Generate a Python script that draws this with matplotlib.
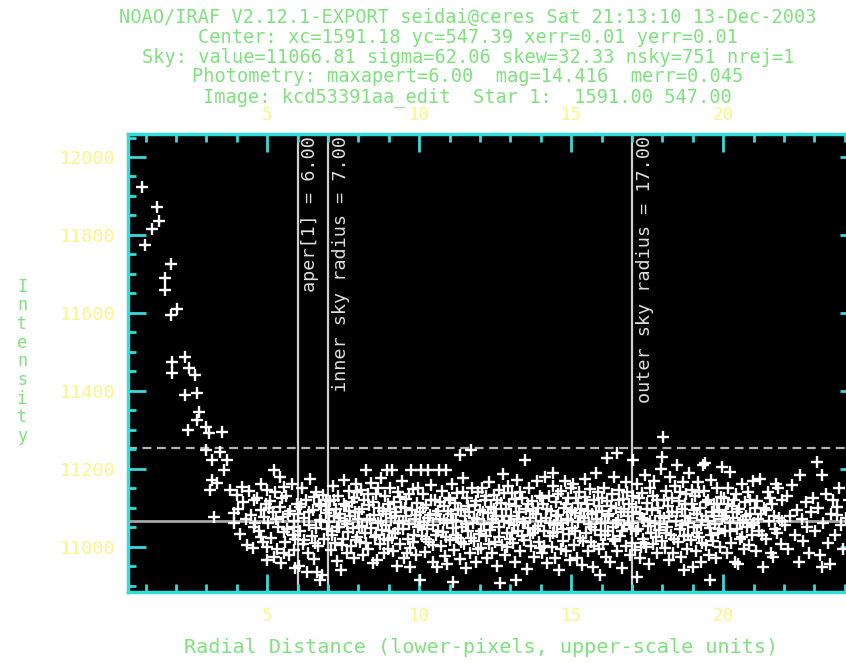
import matplotlib
matplotlib.use('Agg')
import matplotlib.pyplot as plt
from matplotlib.ticker import MultipleLocator

# header lines written by IRAF above the plot
header = [
    'NOAO/IRAF V2.12.1-EXPORT seidai@ceres Sat 21:13:10 13-Dec-2003',
    'Center: xc=1591.18 yc=547.39 xerr=0.01 yerr=0.01',
    'Sky: value=11066.81 sigma=62.06 skew=32.33 nsky=751 nrej=1',
    'Photometry: maxapert=6.00  mag=14.416  merr=0.045',
    'Image: kcd53391aa_edit  Star 1:  1591.00 547.00',
]

sky_value = 11066.81
sky_sigma = 62.06
aper = 6.00
r_inner = 7.00
r_outer = 17.00
upper_ticks = [5, 10, 15, 20]

# pixel (radius, intensity) pairs
star = [(0.88, 11923), (1.36, 11871), (1.43, 11837), (1.21, 11816), (0.99, 11774),
        (1.84, 11725), (1.65, 11689), (1.65, 11659), (2.04, 11610), (1.82, 11595),
        (2.31, 11488), (1.87, 11475), (2.42, 11458), (1.87, 11445), (2.64, 11441),
        (2.30, 11389), (2.68, 11395), (2.74, 11347), (2.68, 11325), (2.41, 11300),
        (2.97, 11308), (3.08, 11291), (3.52, 11295), (2.97, 11248), (3.19, 11222),
        (3.46, 11244), (3.57, 11197), (3.68, 11222), (3.19, 11171), (3.13, 11146),
        (3.35, 11163), (3.79, 11146), (3.24, 11077), (3.90, 11086), (3.90, 11060)]

band_04 = [(4.01, 11133), (4.17, 11154), (4.56, 11120), (4.78, 11094), (4.56, 11051),
           (4.78, 11026), (4.05, 11098), (4.12, 11032), (4.21, 11115), (4.30, 11071),
           (4.33, 11005), (4.41, 11143), (4.48, 11082), (4.52, 10998), (4.61, 11060),
           (4.66, 11125), (4.73, 11041), (4.80, 11160), (4.85, 11012), (4.90, 11077),
           (4.96, 11109)]

band_05 = [(5.22, 11197), (5.43, 11180), (5.55, 11154), (5.00, 11146), (5.00, 11000),
           (5.22, 10974), (5.55, 10983), (5.00, 10966), (5.55, 11038), (5.87, 11051),
           (5.87, 10992), (5.04, 11062), (5.09, 11118), (5.13, 11023), (5.18, 11088),
           (5.26, 11140), (5.31, 10995), (5.35, 11052), (5.42, 11103), (5.47, 10958),
           (5.52, 11076), (5.58, 11012), (5.63, 11131), (5.66, 11045), (5.71, 10978),
           (5.75, 11092), (5.80, 11160), (5.84, 11030), (5.89, 11067), (5.93, 10945),
           (5.97, 11110), (5.06, 11100), (5.28, 11070), (5.49, 11125), (5.68, 11085),
           (5.91, 11020)]

band_06 = [(6.20, 11017), (6.31, 10936), (6.64, 10936), (6.75, 10915), (6.09, 11103),
           (6.53, 11128), (6.75, 11069), (6.02, 11085), (6.05, 10950), (6.08, 11040),
           (6.14, 11152), (6.17, 11008), (6.22, 11073), (6.27, 11121), (6.33, 10985),
           (6.38, 11056), (6.41, 11175), (6.46, 11027), (6.50, 11094), (6.55, 10968),
           (6.59, 11140), (6.62, 11048), (6.68, 11002), (6.71, 11110), (6.76, 11066),
           (6.80, 10928), (6.84, 11133), (6.88, 11019), (6.93, 11087), (6.97, 11045),
           (6.12, 11110), (6.36, 11090), (6.57, 11010), (6.78, 11105), (6.95, 11120)]

band_07 = [(7.02, 11063), (7.05, 11118), (7.09, 10992), (7.12, 11041), (7.16, 11156),
           (7.19, 11078), (7.23, 11010), (7.27, 11097), (7.30, 10963), (7.33, 11129),
           (7.37, 11052), (7.41, 11085), (7.44, 10940), (7.48, 11020), (7.51, 11172),
           (7.55, 11066), (7.58, 11104), (7.61, 10985), (7.65, 11037), (7.68, 11143),
           (7.72, 11079), (7.75, 11003), (7.79, 11115), (7.82, 11048), (7.86, 10972),
           (7.89, 11090), (7.93, 11160), (7.96, 11026), (7.99, 11071), (7.04, 11095),
           (7.14, 11030), (7.21, 11120), (7.35, 11075), (7.46, 11005), (7.53, 11110),
           (7.63, 11058), (7.70, 11092), (7.84, 11125), (7.91, 11018), (7.97, 11140),
           (7.28, 11050)]

band_08 = [(8.02, 11088), (8.05, 11013), (8.08, 11145), (8.12, 11054), (8.15, 10978),
           (8.19, 11120), (8.22, 11036), (8.26, 11196), (8.29, 11069), (8.33, 10995),
           (8.36, 11108), (8.40, 11047), (8.43, 11163), (8.47, 10958), (8.50, 11082),
           (8.54, 11025), (8.57, 11135), (8.61, 10966), (8.64, 11061), (8.68, 11100),
           (8.71, 11008), (8.75, 11176), (8.78, 11043), (8.82, 11091), (8.85, 10985),
           (8.89, 11130), (8.92, 11057), (8.96, 11018), (8.99, 11110), (8.95, 11197),
           (8.03, 11050), (8.11, 11098), (8.24, 11010), (8.31, 11135), (8.38, 11072),
           (8.49, 11115), (8.58, 11030), (8.66, 11150), (8.73, 11065), (8.83, 11020),
           (8.90, 11085), (8.97, 10995)]

band_09 = [(9.01, 11040), (9.04, 11152), (9.07, 11073), (9.10, 11197), (9.13, 10990),
           (9.17, 11115), (9.20, 11035), (9.24, 11088), (9.27, 10950), (9.31, 11140),
           (9.34, 11061), (9.37, 11006), (9.41, 11101), (9.44, 11168), (9.48, 11045),
           (9.51, 10972), (9.55, 11079), (9.58, 11123), (9.62, 11020), (9.65, 11058),
           (9.69, 10998), (9.70, 10949), (9.72, 11197), (9.76, 11095), (9.79, 11148),
           (9.83, 11031), (9.86, 11070), (9.90, 10980), (9.93, 11112), (9.97, 11050),
           (9.03, 11098), (9.11, 11022), (9.19, 11080), (9.29, 11045), (9.36, 11128),
           (9.46, 11066), (9.53, 11100), (9.61, 10985), (9.67, 11135), (9.78, 11012),
           (9.88, 11082), (9.95, 11150)]

band_10 = [(10.02, 11090), (10.03, 10915), (10.05, 11197), (10.09, 11028), (10.12, 11136),
           (10.16, 11064), (10.19, 10987), (10.23, 11107), (10.26, 11046), (10.30, 11197),
           (10.33, 11012), (10.37, 11082), (10.40, 11158), (10.44, 10962), (10.47, 11055),
           (10.51, 11120), (10.54, 11030), (10.58, 10949), (10.61, 11093), (10.65, 11197),
           (10.68, 11070), (10.72, 11001), (10.75, 11142), (10.79, 11039), (10.82, 11104),
           (10.86, 10977), (10.89, 11197), (10.90, 10955), (10.93, 11062), (10.97, 11125),
           (10.04, 11055), (10.13, 11100), (10.21, 11020), (10.29, 11075), (10.38, 11120),
           (10.46, 11005), (10.55, 11085), (10.63, 11040), (10.70, 11115), (10.81, 11068),
           (10.88, 11025), (10.96, 11092)]

band_11 = [(11.01, 11018), (11.04, 11085), (11.08, 11160), (11.10, 10910), (11.12, 11047),
           (11.15, 10992), (11.19, 11113), (11.22, 11066), (11.26, 11137), (11.29, 11023),
           (11.33, 10968), (11.35, 11235), (11.36, 11098), (11.40, 11052), (11.43, 11177),
           (11.47, 11008), (11.50, 11080), (11.54, 10945), (11.57, 11125), (11.61, 11040),
           (11.64, 11090), (11.68, 10983), (11.72, 11248), (11.73, 11150), (11.76, 11060),
           (11.79, 11015), (11.83, 11108), (11.86, 10960), (11.90, 11072), (11.93, 11140),
           (11.97, 11033), (11.03, 11120), (11.11, 11068), (11.20, 11030), (11.28, 11095),
           (11.38, 11012), (11.45, 11140), (11.53, 11058), (11.62, 11105), (11.70, 11022),
           (11.80, 11075), (11.88, 11118), (11.95, 10995)]

band_12 = [(12.01, 11095), (12.05, 10998), (12.08, 11150), (12.12, 11058), (12.15, 11120),
           (12.19, 11027), (12.22, 10970), (12.26, 11087), (12.29, 11166), (12.33, 11042),
           (12.36, 11103), (12.40, 10985), (12.43, 11070), (12.47, 11133), (12.50, 11012),
           (12.54, 11078), (12.57, 10950), (12.61, 11145), (12.64, 11050), (12.66, 10907),
           (12.68, 11112), (12.71, 11004), (12.75, 11186), (12.78, 11065), (12.82, 10979),
           (12.85, 11098), (12.89, 11036), (12.92, 11155), (12.96, 11062), (12.99, 11020),
           (12.03, 11040), (12.10, 11088), (12.20, 11130), (12.31, 11008), (12.38, 11060),
           (12.46, 11098), (12.55, 11120), (12.63, 11025), (12.73, 11080), (12.80, 11138),
           (12.88, 11000), (12.97, 11110)]

band_13 = [(13.02, 11080), (13.05, 11138), (13.09, 11010), (13.12, 11056), (13.16, 10962),
           (13.19, 11105), (13.20, 10915), (13.23, 11172), (13.26, 11041), (13.30, 11090),
           (13.33, 10990), (13.37, 11126), (13.40, 11064), (13.44, 11018), (13.48, 11222),
           (13.51, 11097), (13.55, 10944), (13.58, 11048), (13.62, 11150), (13.65, 11075),
           (13.69, 11002), (13.72, 11117), (13.76, 11035), (13.79, 10975), (13.83, 11085),
           (13.86, 11168), (13.90, 11053), (13.93, 11012), (13.97, 11130), (13.04, 11035),
           (13.14, 11122), (13.22, 11070), (13.31, 11140), (13.39, 11028), (13.47, 11060),
           (13.57, 11110), (13.66, 11030), (13.74, 11092), (13.82, 11045), (13.91, 11100),
           (13.99, 10998)]

band_14 = [(14.01, 11067), (14.04, 10985), (14.08, 11110), (14.11, 11040), (14.15, 11180),
           (14.18, 11075), (14.22, 10958), (14.26, 11130), (14.29, 11028), (14.33, 11092),
           (14.36, 11000), (14.40, 11155), (14.41, 11188), (14.44, 11055), (14.47, 10972),
           (14.51, 11115), (14.54, 11038), (14.58, 11082), (14.61, 10940), (14.65, 11142),
           (14.68, 11061), (14.72, 11015), (14.75, 11100), (14.79, 11170), (14.82, 10990),
           (14.86, 11072), (14.89, 11125), (14.93, 11033), (14.96, 10965), (14.99, 11090),
           (14.03, 11125), (14.12, 11002), (14.20, 11098), (14.31, 11060), (14.39, 11035),
           (14.49, 11080), (14.57, 11135), (14.66, 10995), (14.74, 11045), (14.84, 11110),
           (14.91, 11068), (14.98, 11150)]

band_15 = [(15.02, 11048), (15.06, 11160), (15.09, 11005), (15.13, 11087), (15.16, 11125),
           (15.20, 10970), (15.23, 11064), (15.27, 11140), (15.30, 11022), (15.34, 11098),
           (15.37, 10952), (15.41, 11075), (15.44, 11175), (15.48, 11036), (15.51, 11110),
           (15.55, 10988), (15.58, 11058), (15.62, 11148), (15.65, 11012), (15.69, 11084),
           (15.72, 10949), (15.76, 11121), (15.79, 11043), (15.83, 11190), (15.86, 11070),
           (15.90, 10995), (15.93, 11105), (15.95, 10927), (15.97, 11030), (15.04, 11095),
           (15.12, 11040), (15.21, 11112), (15.29, 11078), (15.39, 11015), (15.47, 11128),
           (15.57, 11092), (15.64, 11050), (15.74, 11002), (15.81, 11088), (15.89, 11140),
           (15.99, 11062)]

band_16 = [(16.01, 11092), (16.04, 11008), (16.08, 11150), (16.11, 11060), (16.15, 10975),
           (16.17, 11227), (16.19, 11118), (16.22, 11040), (16.26, 11085), (16.29, 10960),
           (16.33, 11135), (16.36, 11050), (16.40, 11178), (16.43, 11015), (16.47, 11100),
           (16.50, 11240), (16.52, 10990), (16.54, 11068), (16.58, 11145), (16.61, 11027),
           (16.65, 11089), (16.68, 10945), (16.72, 11122), (16.75, 11056), (16.79, 11165),
           (16.82, 11003), (16.86, 11078), (16.89, 11110), (16.93, 10980), (16.97, 11045),
           (16.03, 11125), (16.12, 11030), (16.21, 11080), (16.31, 11105), (16.38, 11020),
           (16.48, 11060), (16.57, 11120), (16.66, 11040), (16.74, 11098), (16.84, 11140),
           (16.91, 11062), (16.99, 11010)]

band_17 = [(17.02, 11130), (17.05, 11222), (17.05, 11060), (17.09, 10993), (17.12, 11102),
           (17.16, 10923), (17.18, 11160), (17.21, 11045), (17.25, 11085), (17.28, 10970),
           (17.32, 11138), (17.35, 11020), (17.39, 11070), (17.42, 11185), (17.46, 11000),
           (17.49, 11112), (17.53, 11053), (17.56, 10955), (17.60, 11150), (17.63, 11035),
           (17.67, 11094), (17.70, 11008), (17.74, 11170), (17.77, 11062), (17.81, 10985),
           (17.84, 11120), (17.88, 11042), (17.91, 11080), (17.95, 11200), (17.98, 11231),
           (17.99, 11015), (17.04, 11090), (17.13, 11040), (17.23, 11125), (17.33, 11075),
           (17.41, 11010), (17.51, 11098), (17.61, 11065), (17.69, 11130), (17.79, 11025),
           (17.87, 11100), (17.93, 11058), (17.31, 11000)]

band_18 = [(18.03, 11282), (18.05, 11075), (18.08, 10998), (18.12, 11142), (18.15, 11050),
           (18.19, 11105), (18.22, 10965), (18.26, 11180), (18.29, 11030), (18.33, 11090),
           (18.36, 10985), (18.40, 11155), (18.44, 11065), (18.47, 11210), (18.50, 11012),
           (18.54, 11118), (18.57, 11045), (18.61, 10975), (18.64, 11098), (18.68, 11165),
           (18.70, 10940), (18.72, 11028), (18.75, 11080), (18.79, 11135), (18.82, 10995),
           (18.86, 11060), (18.89, 11190), (18.93, 11018), (18.96, 11110), (18.04, 11120),
           (18.13, 11035), (18.21, 11078), (18.31, 11125), (18.39, 11020), (18.48, 11088),
           (18.58, 11140), (18.66, 11055), (18.74, 11110), (18.84, 11030), (18.91, 11075),
           (18.99, 11145)]

band_19 = [(19.00, 10949), (19.03, 11052), (19.07, 11130), (19.10, 10990), (19.14, 11085),
           (19.17, 11165), (19.21, 11025), (19.24, 11100), (19.28, 10960), (19.31, 11068),
           (19.35, 11210), (19.38, 11142), (19.40, 11214), (19.42, 11005), (19.45, 11078),
           (19.49, 11120), (19.52, 10980), (19.56, 11048), (19.57, 10915), (19.59, 11172),
           (19.63, 11090), (19.66, 11015), (19.70, 11110), (19.73, 11058), (19.77, 10970),
           (19.80, 11150), (19.84, 11035), (19.87, 11095), (19.91, 11000), (19.95, 11205),
           (19.97, 11070), (19.05, 11095), (19.13, 11035), (19.22, 11140), (19.32, 11010),
           (19.43, 11115), (19.50, 11065), (19.61, 11030), (19.69, 11080), (19.79, 11110),
           (19.86, 11045), (19.93, 11128), (19.27, 11055)]

band_20 = [(20.02, 11125), (20.06, 11040), (20.10, 11088), (20.13, 10985), (20.17, 11150),
           (20.21, 11060), (20.23, 11192), (20.26, 11010), (20.30, 11105), (20.34, 11075),
           (20.38, 10960), (20.42, 11135), (20.46, 11045), (20.50, 10957), (20.53, 11098),
           (20.57, 11020), (20.61, 11160), (20.65, 11068), (20.69, 10995), (20.73, 11115),
           (20.77, 11050), (20.81, 11140), (20.85, 11005), (20.89, 11085), (20.94, 11030),
           (20.98, 11170), (20.04, 11080), (20.15, 11110), (20.24, 11040), (20.36, 11120),
           (20.44, 11090), (20.55, 11060), (20.63, 11025), (20.75, 11080), (20.87, 11120),
           (20.96, 11055)]

band_21 = [(21.03, 11062), (21.08, 10990), (21.13, 11118), (21.18, 11040), (21.20, 11175),
           (21.24, 11085), (21.30, 10949), (21.35, 11100), (21.40, 11020), (21.46, 11140),
           (21.51, 11065), (21.57, 10985), (21.62, 11110), (21.65, 10974), (21.69, 11045),
           (21.75, 11160), (21.80, 11150), (21.84, 11075), (21.89, 11008), (21.95, 11120),
           (21.05, 11100), (21.15, 11070), (21.28, 11030), (21.42, 11095), (21.55, 11125),
           (21.67, 11080), (21.78, 11035), (21.92, 11065)]

band_22 = [(22.03, 11055), (22.09, 11130), (22.15, 10995), (22.21, 11080), (22.28, 11158),
           (22.35, 11030), (22.42, 11095), (22.48, 10960), (22.53, 11184), (22.58, 11070),
           (22.64, 11015), (22.71, 11115), (22.77, 11050), (22.84, 10985), (22.90, 11090),
           (22.97, 11124)]

band_23 = [(23.03, 11040), (23.08, 11218), (23.12, 11100), (23.20, 10980), (23.24, 11184),
           (23.24, 10949), (23.30, 11060), (23.38, 11135), (23.45, 11010), (23.50, 10957),
           (23.55, 11085), (23.62, 11120), (23.68, 11030), (23.74, 11103), (23.74, 11081),
           (23.80, 11150), (23.88, 11055), (23.95, 10995), (24.05, 11075), (24.15, 11120),
           (24.25, 11040)]

bands = [star, band_04, band_05, band_06, band_07, band_08, band_09, band_10, band_11,
         band_12, band_13, band_14, band_15, band_16, band_17, band_18, band_19, band_20,
         band_21, band_22, band_23]
radius = [p[0] for b in bands for p in b]
intensity = [p[1] for b in bands for p in b]

frame = '#33dcdc'
yellow = '#f6f68a'
green = '#7fe27f'

plt.rcParams['font.family'] = 'DejaVu Sans Mono'
fig = plt.figure(figsize=(8.46, 6.63), dpi=100)
ax = fig.add_axes([0.1513, 0.1071, 0.863, 0.6908])
ax.set_facecolor('black')

ax.set_xlim(0.42, 24.44)
ax.set_ylim(10884, 12059)

# sky level and sky + 3 sigma
ax.axhline(sky_value, color='#a8a8a8', lw=2, zorder=1)
ax.axhline(sky_value + 3 * sky_sigma, color='#b4b4b4', lw=1.6, ls=(0, (4, 2.5)), zorder=1)

for rv, lab in [(aper, 'aper[1] = 6.00'), (r_inner, 'inner sky radius = 7.00'),
                (r_outer, 'outer sky radius = 17.00')]:
    ax.axvline(rv, color='#cfcfcf', lw=1.6, zorder=1)
    ax.text(rv + 0.12, 0.996, lab, transform=ax.get_xaxis_transform(), rotation=90,
            ha='left', va='top', color='#e0e0e0', fontsize=13.3, zorder=3)

ax.plot(radius, intensity, '+', ls='none', color='white', ms=9, mew=1.7, zorder=2)

ax.xaxis.set_major_locator(MultipleLocator(5))
ax.xaxis.set_minor_locator(MultipleLocator(1))
ax.yaxis.set_major_locator(MultipleLocator(200))
ax.yaxis.set_minor_locator(MultipleLocator(50))
ax.tick_params(which='both', direction='in', color=frame, width=2,
               top=True, right=True, labeltop=False)
ax.tick_params(which='major', length=13)
ax.tick_params(which='minor', length=6)
ax.tick_params(axis='x', which='major', labelcolor=yellow, labelsize=12.5, pad=11)
ax.tick_params(axis='y', which='major', labelcolor=yellow, labelsize=13.2, pad=9)
for s in ax.spines.values():
    s.set_color(frame)
    s.set_linewidth(2.5)

# upper scale units (scale = 1) labelled above the frame
top = ax.secondary_xaxis('top')
top.set_xticks(upper_ticks)
top.tick_params(length=0, labelcolor=yellow, labelsize=12.5, pad=7)
top.spines['top'].set_visible(False)

ys = [0.973, 0.944, 0.914, 0.884, 0.853]
for line, y in zip(header, ys):
    fig.text(0.553, y, line, ha='center', va='center', color=green, fontsize=13.4)

fig.text(0.569, 0.024, 'Radial Distance (lower-pixels, upper-scale units)',
         ha='center', va='center', color=green, fontsize=14.5)
fig.text(0.026, 0.455, '\n'.join('Intensity'), ha='center', va='center',
         color=green, fontsize=12, linespacing=1.05)

fig.savefig('out.png', dpi=100, facecolor='white')
